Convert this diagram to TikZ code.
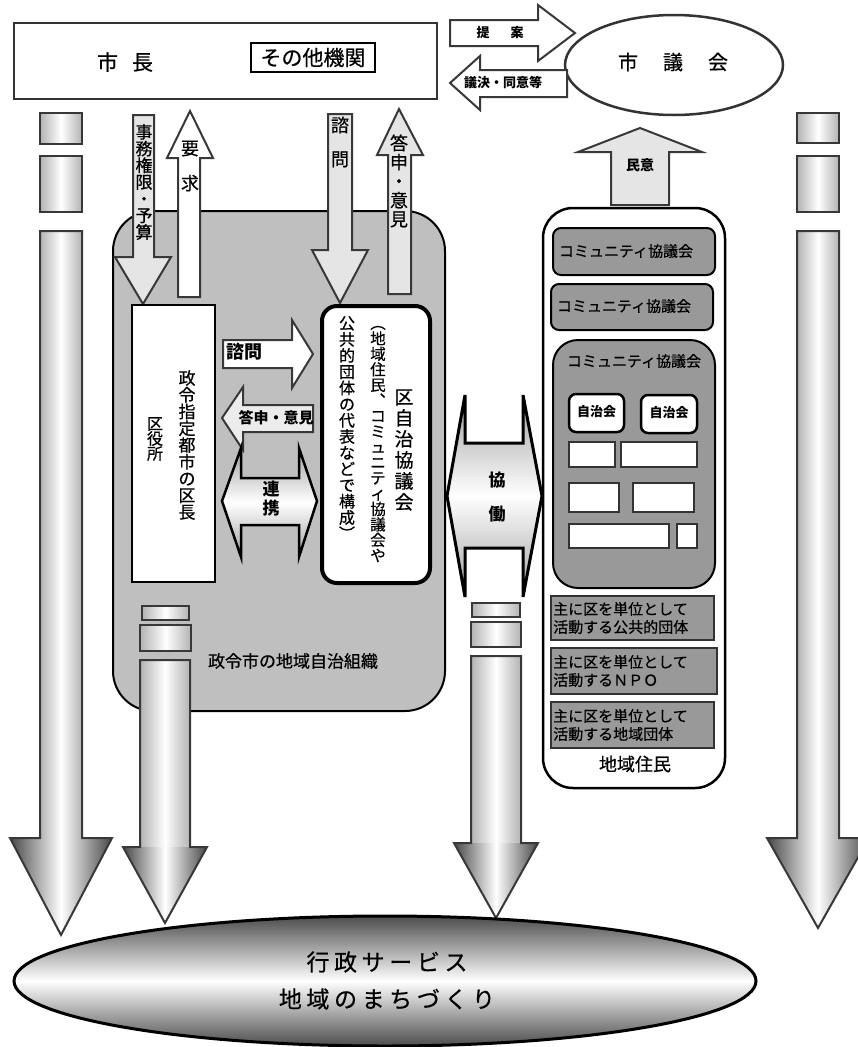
\documentclass[tikz,border=0pt]{standalone}
\usepackage{fontspec}
\setmainfont{Noto Sans CJK JP}[UprightFeatures={FakeBold=0.6}]
\newcommand\fs[2]{\fontsize{#1}{#2}\selectfont}
\tikzset{
  arrline/.style={draw=black!78, line width=2pt, line join=miter},
  shaftshade/.style={left color=gray!60, right color=gray!60, middle color=white},
  headshade/.style={left color=black!72, right color=black!72, middle color=white},
  segbox/.style={shaftshade, draw=black!78, line width=2pt},
  upfill/.style={draw=black!78, line width=2pt, fill=gray!20},
  vt/.style={align=center, inner sep=0pt},
  tx/.style={inner sep=0pt},
  commbox/.style={draw=black, line width=2pt, fill=gray!80, rounded corners=8pt},
  smallbox/.style={draw=black!80, line width=2pt, fill=white},
  orgbox/.style={draw=black!80, line width=2.5pt, fill=gray!80},
  dblshade/.style={top color=gray!75, bottom color=gray!75, middle color=white}
}
\newcommand\colarr[6]{%
  \shade[shaftshade] (#1-#2,#3) rectangle (#1+#2,#4);
  \shade[headshade] (#1-#5,#4) -- (#1+#5,#4) -- (#1,#6) -- cycle;
  \draw[arrline] (#1-#2,#3) -- (#1+#2,#3) -- (#1+#2,#4) -- (#1+#5,#4) -- (#1,#6) -- (#1-#5,#4) -- (#1-#2,#4) -- cycle;
}
\begin{document}
\begin{tikzpicture}[x=1pt,y=-1pt]
\useasboundingbox (0,0) rectangle (858,1047);

% far left and far right column arrows
\path[segbox] (40,113) rectangle (82,144);
\path[segbox] (40,156) rectangle (82,212);
\colarr{61}{21}{231}{838}{51}{935}
\path[segbox] (797,113) rectangle (839,143);
\path[segbox] (797,156) rectangle (839,212);
\colarr{818}{21}{231}{838}{51}{928}

% mayor
\draw[draw=black!80, line width=2.5pt, fill=white] (14,23) rectangle (437,99);
\node[tx, font=\fs{21}{21}] (mayor) at (125,62) {市\hspace{14pt}長};
\node[draw, line width=1.5pt, minimum width=124pt, minimum height=29pt, inner sep=0pt, font=\fs{21}{21}] (other) at (313,57.5) {その他機関};

% council
\draw[draw=black!80, line width=2.5pt, fill=white] (674,65) ellipse [x radius=109pt, y radius=50pt];
\node[tx, font=\fs{20}{20}] (council) at (673,62) {市\hspace{25pt}議\hspace{25pt}会};

% proposal arrows
\draw[arrline, fill=white] (450,20) -- (538,20) -- (538,5) -- (575,33) -- (538,61) -- (538,46) -- (450,46) -- cycle;
\node[tx, font=\fs{13}{13}\bfseries] (teian) at (500,33) {提\hspace{21pt}案};
\draw[arrline, fill=white] (567,70) -- (480,70) -- (480,56) -- (450,83) -- (480,110) -- (480,97) -- (567,97) -- cycle;
\node[tx, font=\fs{13}{13}\bfseries] (giketsu) at (503,83) {議決・同意等};

% gray region
\draw[fill=gray!50, line width=2pt, rounded corners=40pt] (113,211) rectangle (445,711);
\node[tx, font=\fs{17}{17}] (region) at (293,661) {政令市の地域自治組織};

% vertical arrows from/to mayor
\draw[upfill] (133,115) -- (154,115) -- (154,257) -- (171,257) -- (143,304) -- (115,257) -- (133,257) -- cycle;
\node[vt, font=\fs{17}{16.7}] (jimu) at (144,182) {事\\務\\権\\限\\・\\予\\算};
\draw[arrline, fill=white] (178,297) -- (178,158) -- (167,158) -- (190,111) -- (213,158) -- (200,158) -- (200,297) -- cycle;
\node[vt, font=\fs{18}{35}] (yokyu) at (190,166) {要\\求};
\draw[upfill] (328,114) -- (352,114) -- (352,250) -- (368,250) -- (340,303) -- (312,250) -- (328,250) -- cycle;
\node[vt, font=\fs{18}{34}] (shimon1) at (340,142) {諮\\問};
\draw[upfill] (388,294) -- (388,155) -- (377,155) -- (399,109) -- (423,155) -- (411,155) -- (411,294) -- cycle;
\node[vt, font=\fs{18}{19}] (toshin1) at (399,181) {答\\申\\・\\意\\見};

% ward office box
\draw[fill=white, line width=2pt] (132,305) rectangle (215,582);
\node[vt, font=\fs{17}{16.75}] (kucho) at (187,445) {政\\令\\指\\定\\都\\市\\の\\区\\長};
\node[vt, font=\fs{16}{15}] (kuyakusho) at (155,439) {区\\役\\所};

% ward council box
\draw[fill=white, line width=4pt, rounded corners=15pt] (322,306) rectangle (430,583);
\node[vt, font=\fs{19}{21}] (kujichi) at (404,450) {区\\自\\治\\協\\議\\会};
\node[vt, font=\fs{15.5}{15.5}] (kosei1) at (378,444) {︵\\地\\域\\住\\民\\︑\\コ\\ミ\\ュ\\ニ\\テ\\ィ\\協\\議\\会\\や};
\node[vt, font=\fs{16}{16.2}] (kosei2) at (347,428) {公\\共\\的\\団\\体\\の\\代\\表\\な\\ど\\で\\構\\成\\︶};

% middle arrows
\draw[arrline, fill=white] (223,340) -- (292,340) -- (292,320) -- (313,354) -- (292,388) -- (292,368) -- (223,368) -- cycle;
\node[tx, font=\fs{18}{18}\bfseries] (shimon2) at (244,352) {諮問};
\draw[arrline, fill=gray!15] (313,405) -- (243,405) -- (243,387) -- (222,418) -- (243,450) -- (243,432) -- (313,432) -- cycle;
\node[tx, font=\fs{15}{15}\bfseries] (toshin2) at (276,418) {答申・意見};
\path[dblshade, draw=black, line width=2.5pt] (222,501) -- (241,448) -- (241,478) -- (299,478) -- (299,448) -- (317,501) -- (299,557) -- (299,525) -- (241,525) -- (241,557) -- cycle;
\node[vt, font=\fs{17}{19}\bfseries] (renkei) at (271,499) {連\\携};

% residents column
\draw[fill=white, line width=2.5pt, rounded corners=30pt] (543,208) rectangle (725,788);
\draw[commbox] (553,228) rectangle (715,275);
\node[tx, font=\fs{15}{15}] (comm1) at (626,251) {コミュニティ協議会};
\draw[commbox] (551,284) rectangle (713,330);
\node[tx, font=\fs{15}{15}] (comm2) at (624,306) {コミュニティ協議会};
\draw[commbox, rounded corners=25pt] (553,340) rectangle (715,588);
\node[tx, font=\fs{15}{15}] (comm3) at (634,361) {コミュニティ協議会};
\draw[draw=black, line width=2.5pt, fill=white, rounded corners=7pt] (569,394) rectangle (624,432);
\node[tx, font=\fs{13}{13}\bfseries] (jichi1) at (596.5,412) {自治会};
\draw[draw=black, line width=2.5pt, fill=white, rounded corners=7pt] (641,395) rectangle (697,433);
\node[tx, font=\fs{13}{13}\bfseries] (jichi2) at (669,413) {自治会};
\draw[smallbox] (569,442) rectangle (615,467);
\draw[smallbox] (621,442) rectangle (697,467);
\draw[smallbox] (569,483) rectangle (619,512);
\draw[smallbox] (633,483) rectangle (694,512);
\draw[smallbox] (569,524) rectangle (669,548);
\draw[smallbox] (677,524) rectangle (697,548);
\draw[orgbox] (551,596) rectangle (714,640);
\node[tx, anchor=west, align=left, font=\fs{15}{18}] (org1) at (553,618) {主に区を単位として\\活動する公共的団体};
\draw[orgbox] (551,648) rectangle (717,694);
\node[tx, anchor=west, align=left, font=\fs{15}{18}] (org2) at (553,671) {主に区を単位として\\活動するＮＰＯ};
\draw[orgbox] (551,702) rectangle (714,748);
\node[tx, anchor=west, align=left, font=\fs{15}{18}] (org3) at (553,725) {主に区を単位として\\活動する地域団体};
\node[tx, font=\fs{18}{18}] (jumin) at (635,764) {地域住民};

% public opinion arrow
\draw[upfill] (611,205) -- (611,152) -- (578,152) -- (640,128) -- (702,152) -- (669,152) -- (669,205) -- cycle;
\node[tx, font=\fs{14}{14}\bfseries] (mini) at (640,165) {民意};

% cooperation arrow
\path[dblshade, draw=black, line width=3pt] (447,496) -- (465,395) -- (465,443) -- (523,443) -- (523,395) -- (542,496) -- (523,597) -- (523,548) -- (465,548) -- (465,597) -- cycle;
\node[vt, font=\fs{17}{34}\bfseries] (kyodo) at (497,497) {協\\働};

% lower column arrows
\path[segbox] (142,606) rectangle (189,620);
\path[segbox] (140,625) rectangle (191,651);
\colarr{165}{25}{660}{847}{42}{923}
\path[segbox] (472,603) rectangle (520,617);
\path[segbox] (471,622) rectangle (521,647);
\colarr{496}{25}{656}{843}{42}{918}

% bottom ellipse
\path[draw=black, line width=3pt, top color=black!70, bottom color=black!70, middle color=white] (385,981) ellipse [x radius=371pt, y radius=65pt];
\node[tx, font=\fs{23}{23}\addfontfeatures{LetterSpace=20}] (gyosei) at (387,962) {行政サービス};
\node[tx, font=\fs{23}{23}\addfontfeatures{LetterSpace=20}] (machi) at (387,999) {地域のまちづくり};
\end{tikzpicture}
\end{document}
